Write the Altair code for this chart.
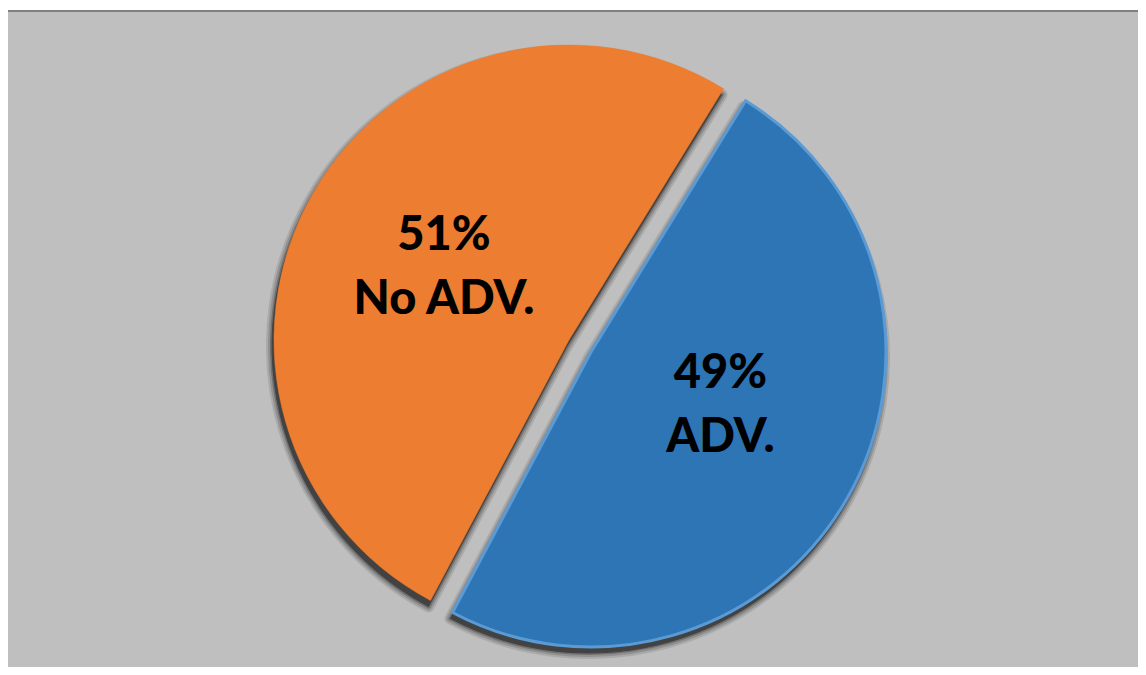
import math
import altair as alt
import pandas as pd

# ---- data ----
labels = ["ADV.", "No ADV."]
values = [49, 51]
pct_labels = ["49%", "51%"]
slice_order = [0, 1]
slice_colors = ["#2E75B6", "#ED7D31"]
stroke_colors = ["#5B9BD5", "#ED7D31"]

df = pd.DataFrame({
    "label": labels,
    "value": values,
    "pct": pct_labels,
    "order": slice_order,
})

W, H = 1130, 655
R = 295
START = math.radians(31.6)

theta_scale = alt.Scale(domain=[0, 100], range=[START, START + 2 * math.pi])

base = (
    alt.Chart(df)
    .transform_window(cum="sum(value)", sort=[{"field": "order"}], frame=[None, 0])
    .transform_calculate(start="datum.cum - datum.value",
                         mid="datum.cum - datum.value / 2")
)

# slice centres inside the view (blue slice exploded)
centres = {"ADV.": (583, 340), "No ADV.": (561, 328)}
text_shift = {"ADV.": (4.5, -17.5), "No ADV.": (0, 0)}

layers = []

# white strip above frame, then border (top & left only)
layers.append(alt.Chart(df).mark_rule(color="#FFFFFF", strokeWidth=4).encode(
    x=alt.value(-10), x2=alt.value(W + 20), y=alt.value(-4)))
layers.append(alt.Chart(df).mark_rule(color="#808080", strokeWidth=2).encode(
    x=alt.value(-1), x2=alt.value(W + 20), y=alt.value(-1)))
layers.append(alt.Chart(df).mark_rule(color="#808080", strokeWidth=2).encode(
    x=alt.value(-1), y=alt.value(-1), y2=alt.value(H + 20)))

# shadows
for lab, (cx, cy) in centres.items():
    xo, yo = cx - W / 2, cy - H / 2
    for sw, op in [(12, 0.1), (8, 0.14), (4, 0.22), (1, 0.4)]:
        layers.append(
            base.transform_filter(alt.datum.label == lab)
            .mark_arc(radius=R, color="#000000", stroke="#000000", strokeWidth=sw,
                      strokeJoin="round", opacity=op, xOffset=xo - 2, yOffset=yo + 6)
            .encode(theta=alt.Theta("start:Q", scale=theta_scale), theta2="cum:Q")
        )

# slices
for lab, (cx, cy) in centres.items():
    xo, yo = cx - W / 2, cy - H / 2
    idx = labels.index(lab)
    layers.append(
        base.transform_filter(alt.datum.label == lab)
        .mark_arc(radius=R, color=slice_colors[idx], stroke=stroke_colors[idx],
                  strokeWidth=3 if lab == "ADV." else 0.5, xOffset=xo, yOffset=yo)
        .encode(theta=alt.Theta("start:Q", scale=theta_scale), theta2="cum:Q")
    )

# labels (two lines)
for lab, (cx, cy) in centres.items():
    sx, sy = text_shift[lab]
    xo, yo = cx - W / 2 + sx, cy - H / 2 + sy
    for field, dy in [("pct", -32), ("label", 32)]:
        layers.append(
            base.transform_filter(alt.datum.label == lab)
            .mark_text(radius=144, font="Lato", fontWeight=900, fontSize=47,
                       color="#000000", align="center", baseline="middle",
                       xOffset=xo, yOffset=yo + dy)
            .encode(theta=alt.Theta("mid:Q", scale=theta_scale), text=f"{field}:N")
        )

chart = (
    alt.layer(*layers)
    .properties(width=W, height=H, background="#BFBFBF",
                autosize=alt.AutoSizeParams(type="none"),
                padding={"left": 0, "top": 4, "right": 0, "bottom": 0})
    .configure_view(strokeWidth=0)
)

chart.save("out.html", embed_options={"renderer": "svg", "actions": False})
